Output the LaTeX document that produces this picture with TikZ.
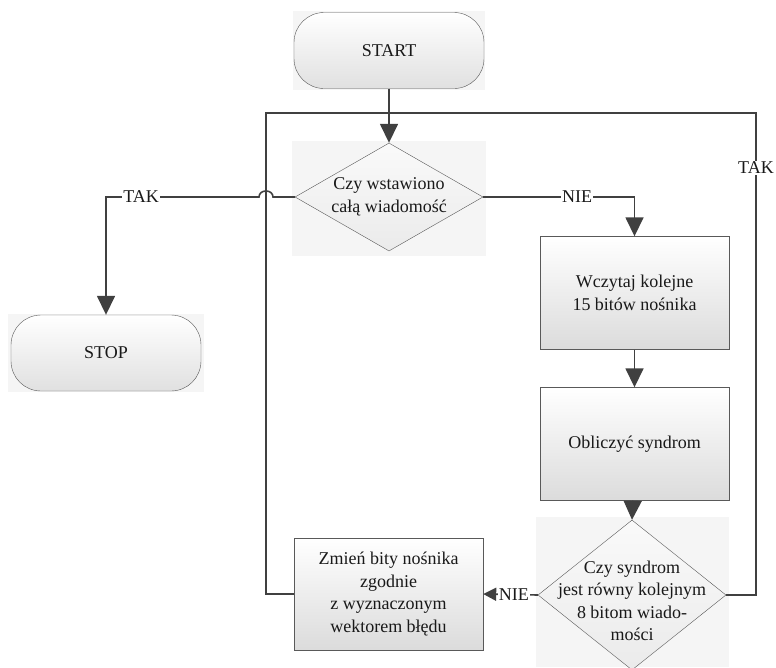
\documentclass[tikz,border=0pt]{standalone}
\usepackage{fontspec}
\setmainfont{Liberation Serif}
\usetikzlibrary{shapes.geometric,arrows.meta,backgrounds,calc}

\begin{document}
\begin{tikzpicture}
  [x=1pt,y=-1pt,
   every node/.style={font=\fontsize{18}{22.5}\selectfont,align=center,text=black!90},
   term/.style={draw=black!65,rounded corners=30pt,minimum width=190pt,minimum height=76pt,top color=white,bottom color=black!12},
   proc/.style={draw=black!65,minimum width=189pt,minimum height=113pt,top color=white,bottom color=black!14},
   dec/.style={diamond,draw=black!65,inner sep=0pt,top color=black!2,bottom color=black!8},
   bgbox/.style={fill=black!4},
   lbl/.style={fill=white,inner sep=1pt},
   flow/.style={draw=black!75,line width=1.6pt,-{Triangle[length=19pt,width=18pt]}},
   flowsmall/.style={draw=black!75,line width=1.6pt,-{Triangle[length=13pt,width=13pt]}},
   line/.style={draw=black!75,line width=1.6pt}]
  \useasboundingbox (0,0) rectangle (776,667);

  \node[term] (start) at (389,50.5) {START};
  \node[term] (stop) at (106,353) {STOP};
  \node[dec,minimum width=188pt,minimum height=108pt] (d1) at (389,197) {};
  \node (d1t) at (d1) {Czy wstawiono\\całą wiadomość};
  \node[proc] (b1) at (634.5,293) {Wczytaj kolejne\\15 bitów nośnika};
  \node[proc] (b2) at (634.5,444) {Obliczyć syndrom};
  \node[dec,minimum width=188pt,minimum height=150pt] (d2) at (632,595) {};
  \node (d2t) at (632,601) {Czy syndrom\\jest równy kolejnym\\8 bitom wiado-\\mości};
  \node[proc,minimum height=112pt] (zm) at (388.5,594) {Zmień bity nośnika\\zgodnie\\z wyznaczonym\\wektorem błędu};

  \begin{scope}[on background layer]
    \fill[bgbox] ($(d1.west|-d1.north)+(-3,-2)$) rectangle ($(d1.east|-d1.south)+(3,5)$);
    \fill[bgbox] ($(d2.west|-d2.north)+(-2,-3)$) rectangle (729,667);
    \fill[bgbox] ($(start.north west)+(-1,-1)$) rectangle ($(start.south east)+(1,1)$);
    \fill[bgbox] ($(stop.north west)+(-3,-1)$) rectangle ($(stop.south east)+(3,1)$);
  \end{scope}

  \coordinate (join) at (389,113);
  \coordinate (loopL) at (266,113);
  \coordinate (loopR) at (756,113);
  \coordinate (hopR) at (273,197);
  \coordinate (hopL) at (259,197);
  \coordinate (takL) at (106,197);
  \coordinate (nieR) at (634.5,197);

  \draw[flow] (start) -- (d1);
  \draw[flow] (d1.west) -- (hopR) .. controls +(0,-8) and +(0,-8) .. (hopL)
    -- node[lbl,pos=0.77] {TAK} (takL) -- (stop.north);
  \draw[flow] (d1.east) -- node[lbl,pos=0.62] {NIE} (nieR) -- (b1.north);
  \draw[flow] (b1) -- (b2);
  \draw[flow] (b2) -- (d2.north);
  \draw[flowsmall] (d2.west) -- node[lbl,pos=0.44] {NIE} (zm.east);
  \draw[line] (zm.west) -| (loopL) -- (join);
  \draw[line] (d2.east) -| node[lbl,pos=0.943] {TAK} (loopR) -- (join);
\end{tikzpicture}
\end{document}
